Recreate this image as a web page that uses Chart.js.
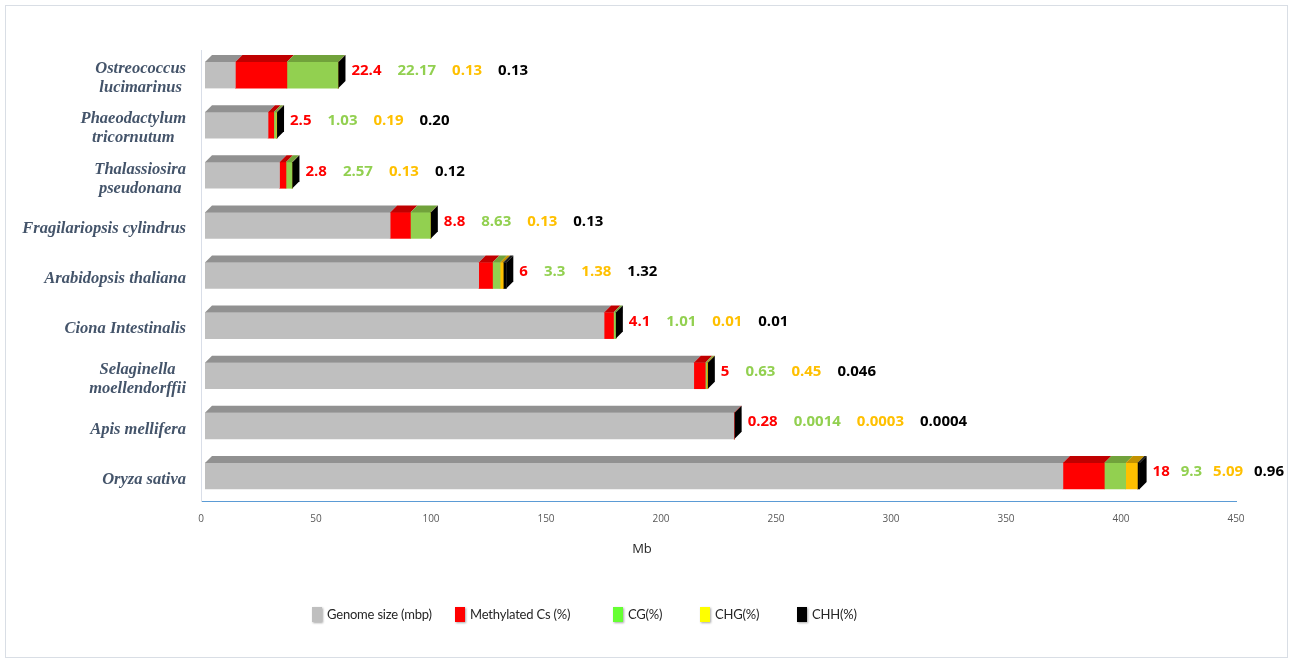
<!DOCTYPE html>
<html>
<head>
<meta charset="utf-8">
<script src="https://cdn.jsdelivr.net/npm/chart.js@4.4.1/dist/chart.umd.min.js"></script>
<style>
  body { margin: 0; background: #fff; }
  #wrap { position: relative; width: 1291px; height: 662px; }
  #frame { position: absolute; left: 5px; top: 5px; width: 1281px; height: 651px; border: 1px solid #D9DEE5; }
  canvas { position: absolute; left: 0; top: 0; }
  .lg { position: absolute; top: 606px; font: 13px Lato, "Open Sans", sans-serif; letter-spacing: -0.2px; color: #262626; display: flex; align-items: center; }
  .lg i { display: inline-block; width: 10px; height: 15px; margin-right: 5px; box-shadow: 1px 1px 2px rgba(0,0,0,0.35); }
</style>
</head>
<body>
<div id="wrap">
  <div id="frame"></div>
  <canvas id="methChart" width="1291" height="662"></canvas>
  <div id="legend"></div>
</div>
<script>
const species = [
    ['Ostreococcus', 'lucimarinus'],
    ['Phaeodactylum', 'tricornutum'],
    ['Thalassiosira', 'pseudonana'],
    ['Fragilariopsis cylindrus'],
    ['Arabidopsis thaliana'],
    ['Ciona Intestinalis'],
    ['Selaginella', 'moellendorffii'],
    ['Apis mellifera'],
    ['Oryza sativa']
];
const genomeSize = [13.2, 27.4, 32.4, 80.5, 119, 173.5, 212.5, 230, 373];
const methylated = ['22.4', '2.5', '2.8', '8.8', '6', '4.1', '5', '0.28', '18'];
const cg = ['22.17', '1.03', '2.57', '8.63', '3.3', '1.01', '0.63', '0.0014', '9.3'];
const chg = ['0.13', '0.19', '0.13', '0.13', '1.38', '0.01', '0.45', '0.0003', '5.09'];
const chh = ['0.13', '0.20', '0.12', '0.13', '1.32', '0.01', '0.046', '0.0004', '0.96'];
const xTicks = [0, 50, 100, 150, 200, 250, 300, 350, 400, 450];

const seriesNames = ['Genome size (mbp)', 'Methylated Cs (%)', 'CG(%)', 'CHG(%)', 'CHH(%)'];
const barColors = ['#BFBFBF', '#FF0000', '#92D050', '#FFC000', '#000000'];
const topColors = ['#919191', '#C00000', '#71A23B', '#C29200', '#1a1a1a'];
const legendColors = ['#BFBFBF', '#FF0000', '#66FF33', '#FFFF00', '#000000'];
const legendLeft = [312, 455, 613, 700, 797];
const labelSeries = [methylated, cg, chg, chh];

const DEPTH = 7, SHIFT = 4;

const legend = document.getElementById('legend');
seriesNames.forEach((name, i) => {
    const d = document.createElement('div');
    d.className = 'lg';
    d.style.left = legendLeft[i] + 'px';
    d.innerHTML = `<i style="background:${legendColors[i]}"></i>${name}`;
    legend.appendChild(d);
});

const bar3d = {
    id: 'bar3d',
    beforeDatasetsDraw(chart) {
        chart.ctx.save();
        chart.ctx.translate(SHIFT, 0);
    },
    afterDatasetsDraw(chart) {
        const ctx = chart.ctx;
        const n = chart.data.datasets.length;
        chart.data.datasets.forEach((ds, di) => {
            chart.getDatasetMeta(di).data.forEach(bar => {
                const h = bar.height, top = bar.y - h / 2;
                const x0 = Math.min(bar.base, bar.x), x1 = Math.max(bar.base, bar.x);
                ctx.fillStyle = topColors[di];
                ctx.beginPath();
                ctx.moveTo(x0, top);
                ctx.lineTo(x1, top);
                ctx.lineTo(x1 + DEPTH, top - DEPTH);
                ctx.lineTo(x0 + DEPTH, top - DEPTH);
                ctx.closePath();
                ctx.fill();
                if (di === n - 1) {
                    ctx.fillStyle = barColors[di];
                    ctx.beginPath();
                    ctx.moveTo(x1, top);
                    ctx.lineTo(x1 + DEPTH, top - DEPTH);
                    ctx.lineTo(x1 + DEPTH, top + h - DEPTH);
                    ctx.lineTo(x1, top + h);
                    ctx.closePath();
                    ctx.fill();
                }
            });
        });
        ctx.restore();
    },
    afterDraw(chart) {
        const ctx = chart.ctx;
        const yScale = chart.scales.y;
        const lastMeta = chart.getDatasetMeta(chart.data.datasets.length - 1);

        // species names: bold italic serif, lines centred, block right-aligned
        ctx.save();
        ctx.font = 'italic bold 16.5px "Liberation Serif", "Times New Roman", serif';
        ctx.fillStyle = '#44546A';
        ctx.textAlign = 'center';
        ctx.textBaseline = 'middle';
        species.forEach((lines, i) => {
            const yc = yScale.getPixelForValue(i) + 3.5;
            const w = Math.max(...lines.map(l => ctx.measureText(l).width));
            const cx = 186 - w / 2;
            lines.forEach((l, k) => {
                ctx.fillText(l, cx, yc + (k - (lines.length - 1) / 2) * 19);
            });
        });
        ctx.restore();

        // value labels right of each bar
        ctx.save();
        ctx.font = 'bold 15px "Open Sans", sans-serif';
        ctx.textBaseline = 'middle';
        ctx.textAlign = 'left';
        lastMeta.data.forEach((bar, i) => {
            const start = bar.x + SHIFT + DEPTH + 6;
            const texts = labelSeries.map(s => s[i]);
            const widths = texts.map(t => ctx.measureText(t).width);
            const total = widths.reduce((a, b) => a + b, 0);
            const gap = Math.min(16, (1284 - start - total) / 3);
            let x = start;
            texts.forEach((t, k) => {
                ctx.fillStyle = barColors[k + 1];
                ctx.fillText(t, x, bar.y - 4);
                x += widths[k] + gap;
            });
        });
        ctx.restore();

        // axis title
        ctx.save();
        ctx.font = '13px "Open Sans", sans-serif';
        ctx.fillStyle = '#262626';
        ctx.textAlign = 'center';
        ctx.textBaseline = 'middle';
        ctx.fillText('Mb', 642, 549);
        ctx.restore();
    }
};

const ctx = document.getElementById('methChart').getContext('2d');
new Chart(ctx, {
    type: 'bar',
    data: {
        labels: species.map(s => s.join(' ')),
        datasets: [genomeSize, methylated, cg, chg, chh].map((vals, i) => ({
            label: seriesNames[i],
            data: vals.map(Number),
            backgroundColor: barColors[i],
            borderWidth: 0,
            barThickness: 26
        }))
    },
    options: {
        indexAxis: 'y',
        responsive: false,
        animation: false,
        devicePixelRatio: 1,
        layout: { padding: { top: 50, right: 55, bottom: 101, left: 0 } },
        plugins: {
            legend: { display: false },
            tooltip: { enabled: false }
        },
        scales: {
            x: {
                stacked: true,
                min: 0,
                max: 450,
                afterBuildTicks: axis => { axis.ticks = xTicks.map(v => ({ value: v })); },
                afterFit: axis => { axis.height = 60; },
                grid: { display: false, drawTicks: false },
                border: { display: true, color: '#5B9BD5', width: 1 },
                ticks: { color: '#595959', font: { family: '"Open Sans", sans-serif', size: 10 }, padding: 12 }
            },
            y: {
                stacked: true,
                afterFit: axis => { axis.width = 201; },
                grid: { display: false, drawTicks: false },
                border: { display: true, color: '#D9DEE8', width: 1 },
                ticks: { display: false }
            }
        }
    },
    plugins: [bar3d]
});
</script>
</body>
</html>
